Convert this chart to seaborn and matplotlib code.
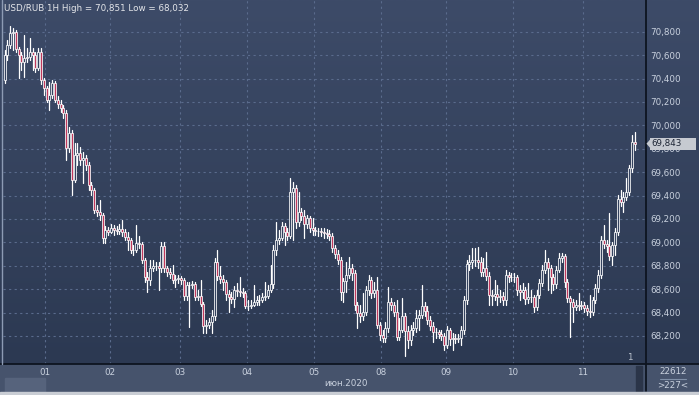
import numpy as np
import pandas as pd
import matplotlib
matplotlib.use("Agg")
import matplotlib.pyplot as plt
import seaborn as sns
from matplotlib.colors import LinearSegmentedColormap
from matplotlib.patches import Rectangle, Polygon
from matplotlib.transforms import blended_transform_factory

# ---------------- data (USD/RUB, 1H candles) ----------------
first_open = 70.387
closes = [70.601, 70.686, 70.789, 70.797, 70.652, 70.601, 70.541, 70.575, 70.584, 70.626,
          70.601, 70.490, 70.626, 70.387, 70.319, 70.216, 70.259, 70.361, 70.216, 70.182,
          70.148, 70.105, 69.806, 69.934, 69.532, 69.746, 69.763, 69.703, 69.720, 69.660,
          69.489, 69.446, 69.275, 69.258, 69.233, 69.036, 69.104, 69.087, 69.122, 69.104,
          69.096, 69.113, 69.087, 69.045, 69.019, 68.933, 68.933, 68.993, 68.985, 68.848,
          68.703, 68.677, 68.780, 68.797, 68.797, 68.780, 68.968, 68.780, 68.745, 68.728,
          68.677, 68.686, 68.694, 68.677, 68.540, 68.634, 68.634, 68.643, 68.532, 68.540,
          68.472, 68.284, 68.292, 68.318, 68.369, 68.831, 68.711, 68.686, 68.660, 68.557,
          68.532, 68.515, 68.591, 68.583, 68.574, 68.566, 68.455, 68.455, 68.463, 68.489,
          68.506, 68.506, 68.532, 68.540, 68.591, 68.643, 68.933, 69.019, 69.036, 69.139,
          69.087, 69.053, 69.429, 69.464, 69.173, 69.258, 69.224, 69.156, 69.207, 69.122,
          69.104, 69.096, 69.096, 69.087, 69.079, 69.070, 69.053, 68.951, 68.899, 68.848,
          68.574, 68.668, 68.720, 68.780, 68.737, 68.463, 68.395, 68.369, 68.403, 68.591,
          68.677, 68.566, 68.591, 68.292, 68.207, 68.181, 68.267, 68.489, 68.463, 68.403,
          68.190, 68.249, 68.369, 68.241, 68.164, 68.249, 68.267, 68.352, 68.378, 68.455,
          68.412, 68.335, 68.284, 68.232, 68.232, 68.215, 68.198, 68.121, 68.249, 68.173,
          68.181, 68.173, 68.181, 68.249, 68.506, 68.814, 68.831, 68.848, 68.848, 68.831,
          68.745, 68.780, 68.711, 68.549, 68.540, 68.557, 68.532, 68.540, 68.506, 68.720,
          68.703, 68.703, 68.703, 68.591, 68.574, 68.591, 68.515, 68.532, 68.532, 68.446,
          68.549, 68.651, 68.762, 68.831, 68.780, 68.703, 68.643, 68.762, 68.865, 68.882,
          68.660, 68.523, 68.489, 68.446, 68.463, 68.455, 68.463, 68.438, 68.412, 68.403,
          68.506, 68.609, 68.720, 69.019, 68.985, 68.968, 68.882, 68.976, 69.087, 69.370,
          69.344, 69.387, 69.429, 69.635, 69.855, 69.843]
highs = [70.644, 70.729, 70.851, 70.832, 70.815, 70.669, 70.626, 70.772, 70.661, 70.746,
         70.661, 70.626, 70.661, 70.661, 70.404, 70.336, 70.370, 70.387, 70.378, 70.250,
         70.216, 70.173, 70.130, 69.985, 69.959, 69.848, 69.848, 69.814, 69.771, 69.746,
         69.686, 69.515, 69.464, 69.318, 69.361, 69.250, 69.139, 69.130, 69.156, 69.147,
         69.139, 69.156, 69.190, 69.113, 69.087, 69.036, 68.976, 69.147, 69.053, 69.002,
         68.865, 68.745, 68.848, 68.848, 68.831, 68.831, 69.002, 69.002, 68.797, 68.780,
         68.805, 68.720, 68.720, 68.711, 68.694, 68.660, 68.660, 68.668, 68.660, 68.591,
         68.677, 68.489, 68.335, 68.352, 68.420, 68.865, 68.933, 68.797, 68.720, 68.677,
         68.591, 68.574, 68.626, 68.651, 68.703, 68.609, 68.583, 68.506, 68.506, 68.634,
         68.540, 68.549, 68.566, 68.660, 68.634, 68.805, 68.976, 69.173, 69.104, 69.173,
         69.164, 69.122, 69.549, 69.515, 69.489, 69.429, 69.293, 69.275, 69.233, 69.224,
         69.207, 69.130, 69.122, 69.122, 69.122, 69.113, 69.104, 69.079, 68.976, 68.933,
         68.874, 68.694, 68.831, 68.874, 68.814, 68.762, 68.489, 68.463, 68.566, 68.626,
         68.720, 68.703, 68.660, 68.703, 68.318, 68.249, 68.318, 68.617, 68.523, 68.489,
         68.506, 68.352, 68.523, 68.395, 68.284, 68.292, 68.318, 68.420, 68.420, 68.634,
         68.489, 68.455, 68.369, 68.318, 68.267, 68.249, 68.249, 68.224, 68.284, 68.267,
         68.224, 68.215, 68.215, 68.284, 68.540, 68.848, 68.891, 68.951, 68.951, 68.959,
         68.874, 68.865, 68.916, 68.745, 68.591, 68.677, 68.634, 68.591, 68.574, 68.762,
         68.745, 68.737, 68.737, 68.720, 68.634, 68.651, 68.617, 68.651, 68.591, 68.549,
         68.591, 68.686, 68.805, 68.933, 68.865, 68.805, 68.728, 68.797, 68.908, 68.908,
         68.899, 68.686, 68.540, 68.515, 68.506, 68.566, 68.497, 68.489, 68.463, 68.549,
         68.532, 68.643, 68.762, 69.053, 69.147, 69.019, 69.250, 69.002, 69.122, 69.404,
         69.446, 69.429, 69.549, 69.660, 69.917, 69.942]
lows = [70.361, 70.558, 70.661, 70.644, 70.626, 70.404, 70.472, 70.413, 70.541, 70.558,
        70.472, 70.455, 70.472, 70.353, 70.259, 70.199, 70.130, 70.233, 70.199, 70.148,
        70.113, 70.062, 69.703, 69.771, 69.404, 69.515, 69.660, 69.660, 69.506, 69.617,
        69.446, 69.404, 69.250, 69.224, 69.190, 68.993, 68.993, 69.062, 69.079, 69.062,
        69.070, 69.070, 69.053, 69.019, 68.933, 68.908, 68.891, 68.916, 68.951, 68.822,
        68.660, 68.574, 68.634, 68.754, 68.762, 68.591, 68.745, 68.745, 68.711, 68.694,
        68.651, 68.617, 68.651, 68.643, 68.506, 68.506, 68.275, 68.609, 68.506, 68.506,
        68.455, 68.224, 68.224, 68.267, 68.224, 68.335, 68.677, 68.651, 68.591, 68.506,
        68.403, 68.480, 68.446, 68.540, 68.540, 68.532, 68.438, 68.420, 68.438, 68.455,
        68.463, 68.463, 68.489, 68.506, 68.523, 68.574, 68.609, 68.891, 68.985, 69.019,
        68.976, 69.019, 69.036, 69.019, 69.122, 69.139, 69.190, 69.036, 69.122, 69.087,
        69.062, 69.062, 69.053, 69.053, 69.036, 69.036, 69.019, 68.916, 68.865, 68.814,
        68.506, 68.489, 68.574, 68.694, 68.677, 68.420, 68.267, 68.318, 68.335, 68.378,
        68.549, 68.523, 68.532, 68.267, 68.164, 68.147, 68.147, 68.232, 68.420, 68.369,
        68.164, 68.164, 68.232, 68.032, 68.096, 68.121, 68.207, 68.232, 68.249, 68.352,
        68.369, 68.301, 68.249, 68.147, 68.181, 68.181, 68.164, 68.078, 68.096, 68.121,
        68.078, 68.138, 68.147, 68.121, 68.215, 68.472, 68.762, 68.780, 68.797, 68.780,
        68.711, 68.711, 68.677, 68.463, 68.463, 68.506, 68.463, 68.489, 68.463, 68.463,
        68.660, 68.668, 68.660, 68.549, 68.506, 68.523, 68.472, 68.480, 68.489, 68.403,
        68.420, 68.523, 68.626, 68.737, 68.591, 68.566, 68.591, 68.609, 68.745, 68.831,
        68.617, 68.489, 68.190, 68.318, 68.420, 68.420, 68.429, 68.403, 68.378, 68.361,
        68.378, 68.480, 68.574, 68.694, 68.951, 68.916, 68.848, 68.805, 68.891, 69.062,
        69.310, 69.258, 69.361, 69.404, 69.600, 69.788]

day_start_idx = [15, 38, 63, 87, 111, 135, 158, 182, 207]
day_labels = ["01", "02", "03", "04", "05", "08", "09", "10", "11"]
price_ticks = [68.2, 68.4, 68.6, 68.8, 69.0, 69.2, 69.4, 69.6, 69.8, 70.0, 70.2, 70.4, 70.6, 70.8]
title_text = "USD/RUB 1H High = 70,851 Low = 68,032"
month_label = "июн.2020"
bars_count_label = "22612"
shift_label = ">227<"

# ---------------- frame ----------------
df = pd.DataFrame({"close": closes, "high": highs, "low": lows})
df["open"] = [first_open] + closes[:-1]
df["idx"] = np.arange(len(df))
df["high"] = df[["high", "open", "close"]].max(axis=1)
df["low"] = df[["low", "open", "close"]].min(axis=1)

sns.set_theme(style="dark")
plt.rcParams["font.family"] = ["DejaVu Sans"]

FS = 6.3
W, H = 699, 395
fig = plt.figure(figsize=(W / 100, H / 100), dpi=100)
fig.patch.set_facecolor("#46536c")

# gradient background for the chart region (including right price scale)
bg = fig.add_axes([0, 31 / H, 1, 364 / H])
cmap = LinearSegmentedColormap.from_list("bgc", ["#2c3952", "#3d4b68"])
bg.imshow(np.linspace(0, 1, 256).reshape(-1, 1), cmap=cmap, origin="lower",
          aspect="auto", extent=[0, 1, 0, 1])
bg.axis("off")

ax = fig.add_axes([3 / W, 31 / H, 643 / W, 364 / H])
ax.patch.set_alpha(0)

# wicks with seaborn
wick = pd.concat([df[["idx"]].assign(price=df["low"]),
                  df[["idx"]].assign(price=df["high"])]).sort_values("idx")
sns.lineplot(data=wick, x="idx", y="price", units="idx", estimator=None,
             color="white", lw=0.9, ax=ax, legend=False, sort=False, zorder=2)

# bodies
body = (df["close"] - df["open"]).to_numpy()
body = np.where(np.abs(body) < 0.002, 0.002, body)
bull = df["close"] >= df["open"]
fills = np.where(bull, "#34425f", "#c0385c")
ax.bar(df["idx"], body, bottom=df["open"], width=0.72, color=fills,
       edgecolor="white", linewidth=0.55, zorder=3)

ax.set_xlim(-0.54, 229.1)
ax.set_ylim(67.960, 71.071)
ax.set_xlabel("")
ax.set_ylabel("")

ax.set_yticks(price_ticks)
ax.set_yticklabels([f"{v:.3f}".replace(".", ",") for v in price_ticks])
ax.yaxis.tick_right()
ax.set_xticks([d - 0.5 for d in day_start_idx])
ax.set_xticklabels(day_labels)
ax.tick_params(axis="y", length=0, pad=3, labelsize=FS, labelcolor="#c9d1de")
ax.tick_params(axis="x", length=0, pad=3.2, labelsize=FS, labelcolor="#c9d1de")
ax.grid(True, color="#5a6b8c", lw=0.8, ls=(0, (2, 3)))
for s in ax.spines.values():
    s.set_visible(False)

# frame lines
fig.add_artist(plt.Line2D([0, 1], [31 / H, 31 / H], color="#0d1420", lw=1.3))
fig.add_artist(plt.Line2D([646 / W, 646 / W], [4 / H, 1], color="#0d1420", lw=1.3))
fig.add_artist(plt.Line2D([2 / W, 2 / W], [31 / H, 1], color="#8d9bb4", lw=1.0))
fig.add_artist(Rectangle((0, 0), 1, 3 / H, transform=fig.transFigure,
                         color="#c9cdd4", zorder=5))
fig.add_artist(Rectangle((5 / W, 3 / H), 40 / W, 14 / H, transform=fig.transFigure,
                         color="#56637c", zorder=4))
fig.add_artist(Rectangle((636 / W, 3 / H), 6 / W, 26 / H, transform=fig.transFigure,
                         color="#2b3549", zorder=4))

# texts
fig.text(4 / W, 1 - 8.5 / H, title_text, ha="left", va="center", fontsize=FS,
         color="#e4e6ea")
fig.text(346 / W, 1 - 384 / H, month_label, ha="center", va="center", fontsize=FS,
         color="#c9d1de")
fig.text(673 / W, 1 - 372 / H, bars_count_label, ha="center", va="center", fontsize=FS,
         color="#c9d1de")
fig.add_artist(plt.Line2D([660 / W, 686 / W], [1 - 378.5 / H, 1 - 378.5 / H],
                          color="#8090a8", lw=0.8))
fig.text(673 / W, 1 - 385.5 / H, shift_label, ha="center", va="center", fontsize=FS,
         color="#c9d1de")
fig.text(630 / W, 1 - 358 / H, "1", ha="center", va="center", fontsize=FS,
         color="#b9c1cc")

# last price tag
last = df["close"].iloc[-1]
tr = blended_transform_factory(fig.transFigure, ax.transData)
fig.add_artist(Rectangle((650 / W, last - 0.051), 46 / W, 0.102, transform=tr,
                         facecolor="#c6cad1", edgecolor="none", zorder=6))
fig.add_artist(Polygon([[646.5 / W, last], [650.5 / W, last + 0.04], [650.5 / W, last - 0.04]],
                       closed=True, transform=tr, facecolor="#c6cad1", edgecolor="none",
                       zorder=6))
fig.text(651.5 / W, last, f"{last:.3f}".replace(".", ","), transform=tr, ha="left",
         va="center", fontsize=FS, color="#1c2434", zorder=7)

fig.savefig("out.png", dpi=100, facecolor=fig.get_facecolor())
